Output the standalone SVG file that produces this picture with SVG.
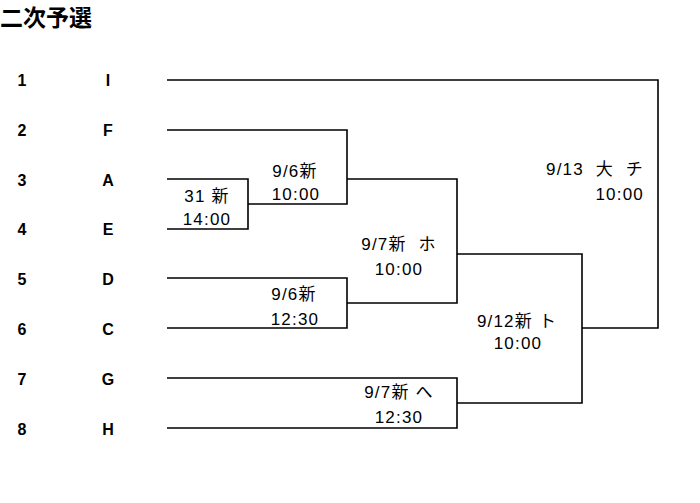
<svg xmlns="http://www.w3.org/2000/svg" width="700" height="503" viewBox="0 0 700 503">
<style>
text{font-family:"Liberation Sans","Noto Sans CJK JP",sans-serif;fill:#000;white-space:pre}
.t{font-size:23px;font-weight:bold}
.n{font-size:16px;font-weight:bold;text-anchor:middle}
.m{font-size:17px;text-anchor:middle;letter-spacing:1.2px}
.r{font-size:17px;text-anchor:end;letter-spacing:1.2px}
.c{fill:none;stroke:#000;stroke-width:1.6}
</style>
<rect width="700" height="503" fill="#fff"/>
<text class="t" x="0" y="26">二次予選</text>
<g id="team1"><text class="n" x="22" y="86">1</text><text class="n" x="108" y="86">I</text></g>
<g id="team2"><text class="n" x="22" y="136">2</text><text class="n" x="108" y="136">F</text></g>
<g id="team3"><text class="n" x="22" y="186">3</text><text class="n" x="108" y="186">A</text></g>
<g id="team4"><text class="n" x="22" y="235">4</text><text class="n" x="108" y="235">E</text></g>
<g id="team5"><text class="n" x="22" y="285">5</text><text class="n" x="108" y="285">D</text></g>
<g id="team6"><text class="n" x="22" y="335">6</text><text class="n" x="108" y="335">C</text></g>
<g id="team7"><text class="n" x="22" y="385">7</text><text class="n" x="108" y="385">G</text></g>
<g id="team8"><text class="n" x="22" y="435">8</text><text class="n" x="108" y="435">H</text></g>
<g id="connectors">
<path class="c" d="M167 80H658V328H582"/>
<path class="c" d="M167 130H347V204H248"/>
<path class="c" d="M167 179H248V229H167"/>
<path class="c" d="M347 179H457V303H347"/>
<path class="c" d="M167 278H347V328H167"/>
<path class="c" d="M457 254H582V403H457"/>
<path class="c" d="M167 378H457V428H167"/>
</g>
<g id="match-31"><text class="m" x="207" y="202">31 新</text><text class="m" x="207" y="225">14:00</text></g>
<g id="match-96a"><text class="m" x="295" y="177">9/6新</text><text class="m" x="296" y="200">10:00</text></g>
<g id="match-96b"><text class="m" x="294" y="300">9/6新</text><text class="m" x="295" y="325">12:30</text></g>
<g id="match-97ho"><text class="m" x="399" y="250">9/7新  ホ</text><text class="m" x="399" y="275">10:00</text></g>
<g id="match-97he"><text class="m" x="399" y="398">9/7新 へ</text><text class="m" x="399" y="423">12:30</text></g>
<g id="match-912"><text class="m" x="517" y="327">9/12新 ト</text><text class="m" x="518" y="349">10:00</text></g>
<g id="match-913"><text class="r" x="644" y="175">9/13  大  チ</text><text class="r" x="644" y="200">10:00</text></g>
</svg>
